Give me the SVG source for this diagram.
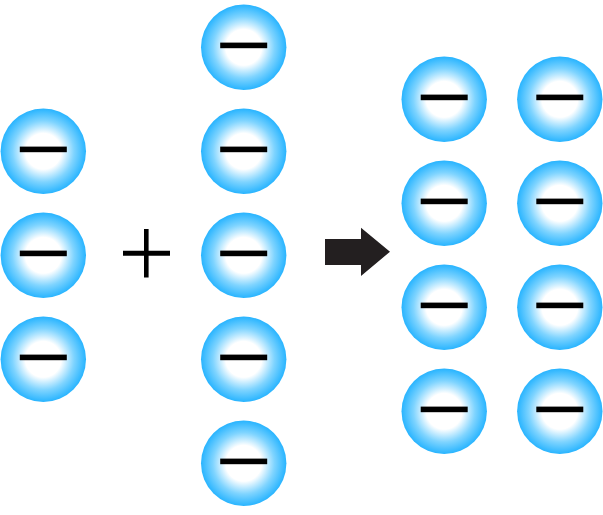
<svg xmlns="http://www.w3.org/2000/svg" width="603" height="515" viewBox="0 0 603 515">
<defs>
<radialGradient id="g" cx="0.5" cy="0.5" r="0.5">
<stop offset="0.42" stop-color="#ffffff"/>
<stop offset="0.72" stop-color="#7fd4ff"/>
<stop offset="1" stop-color="#28b4ff"/>
</radialGradient>
<g id="ion">
<circle cx="0" cy="0" r="42.7" fill="url(#g)"/>
<rect x="-23.5" y="-4.7" width="47" height="5.6" fill="#000"/>
</g>
</defs>
<rect width="603" height="515" fill="#fff"/>
<g id="connectors">
<path id="plus" d="M123 250.8H144V229H148.6V250.8H170V255.8H148.6V277.6H144V255.8H123Z" fill="#000"/>
<path id="arrow" d="M325 239H361V227.7L390 251.7L361 276V265H325Z" fill="#231f20"/>
</g>
<g id="a1"><use href="#ion" x="43.3" y="151.3"/></g>
<g id="a2"><use href="#ion" x="43.3" y="255.3"/></g>
<g id="a3"><use href="#ion" x="43.3" y="359.3"/></g>
<g id="b1"><use href="#ion" x="243.7" y="47.3"/></g>
<g id="b2"><use href="#ion" x="243.7" y="151.3"/></g>
<g id="b3"><use href="#ion" x="243.7" y="255.3"/></g>
<g id="b4"><use href="#ion" x="243.7" y="359.3"/></g>
<g id="b5"><use href="#ion" x="243.7" y="463.3"/></g>
<g id="c1"><use href="#ion" x="444.2" y="99.3"/></g>
<g id="c2"><use href="#ion" x="444.2" y="203.3"/></g>
<g id="c3"><use href="#ion" x="444.2" y="307.3"/></g>
<g id="c4"><use href="#ion" x="444.2" y="411.3"/></g>
<g id="d1"><use href="#ion" x="559.8" y="99.3"/></g>
<g id="d2"><use href="#ion" x="559.8" y="203.3"/></g>
<g id="d3"><use href="#ion" x="559.8" y="307.3"/></g>
<g id="d4"><use href="#ion" x="559.8" y="411.3"/></g>
</svg>
